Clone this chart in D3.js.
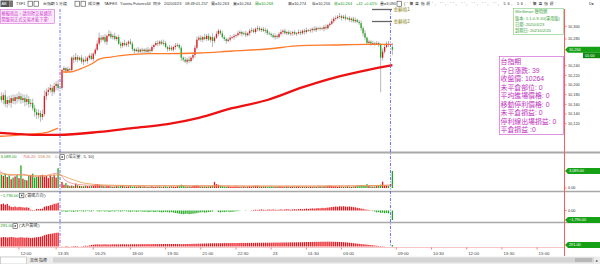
<!DOCTYPE html>
<html><head><meta charset="utf-8">
<script src="https://cdn.jsdelivr.net/npm/d3@7"></script>
<style>
html,body{margin:0;padding:0;background:#fff;overflow:hidden}
svg{display:block;font-family:"Liberation Sans","Noto Sans CJK TC",sans-serif}
</style></head><body>
<svg id="c" width="600" height="264"></svg>
<script>
// ---------- DATA ----------
const firstOpen = 10170;
const dayClose = [10177,10169,10179,10161,10169,10163,10173,10167,10175,10171,10177,10169,10173,10165,10171,10161,10163,10152,10144,10138,10142,10134,10140,10177,10186,10190,10194,10186,10198,10202,10194];
const dayHiExt = [6,8,5,10,7,9,6,8,5,7,9,6,8,7,10,6,8,9,7,6,8,5,9,12,7,6,8,5,7,6,9];
const dayLoExt = [7,5,9,6,8,5,10,6,7,9,5,8,6,9,7,8,6,5,9,8,7,10,6,5,8,7,6,9,5,8,6];
const nightClose = [
10231,10235,10229,10233,10231,10252,10249,10253,10249,10252,10246,10249,10247,10252,
10255,10250,10258,10264,10273,10282,10279,10283,10276,10285,10288,10283,10285,10280,
10283,10273,10270,10274,10271,10273,10276,10273,10265,10262,10264,10261,10264,10262,
10264,10261,10264,10262,10268,10271,10274,10273,10276,10273,10274,10268,10265,10267,
10264,10268,10270,10271,10267,10252,10249,10246,10249,10247,10252,10256,10267,10279,
10282,10279,10283,10280,10285,10279,10283,10277,10282,10288,10293,10289,10283,10280,
10277,10279,10282,10283,10285,10286,10289,10291,10288,10289,10286,10289,10293,10294,
10291,10296,10297,10294,10296,10293,10294,10289,10288,10286,10283,10285,10283,10288,
10291,10293,10289,10291,10288,10289,10291,10288,10289,10291,10289,10293,10291,10294,
10293,10294,10296,10294,10297,10296,10297,10296,10299,10297,10302,10304,10308,10312,
10313,10315,10316,10313,10315,10312,10313,10310,10312,10308,10310,10307,10305,10297,
10289,10282,10274,10276,10273,10274,10273,10274,10271,10252,10261,10268,10273,10271];
const nightHiExt = [
3,4,2,5,3,2,4,6,3,2,4,3,5,2, 3,4,2,3,5,8,4,3,5,2,6,4,3,5, 2,4,3,2,5,3,2,4,3,2,3,4,2,3,
2,3,4,2,3,2,3,4,2,3,5,3,2,4, 3,2,4,3,2,3,2,4,3,5,2,3,4,5, 3,4,2,5,3,4,2,6,3,4,3,2,4,3,
2,3,4,2,3,2,4,3,2,3,4,2,3,4, 3,2,4,3,2,3,4,2,3,2,3,4,2,3, 4,2,3,2,3,4,2,3,2,4,3,2,3,4,
2,3,2,4,3,2,3,2,3,4,2,3,4,3, 4,3,5,2,3,4,2,3,2,3,4,2,3,4, 3,5,2,3,2,3,2,3,2,3,5,4,3,4];
const nightLoExt = [
4,3,5,2,4,3,5,3,4,2,3,5,2,4, 3,2,4,3,2,3,4,2,3,5,2,3,4,2, 3,2,4,3,2,3,5,2,3,4,2,3,2,4,
3,2,3,4,2,3,2,4,3,2,3,2,4,3, 2,3,4,2,3,5,3,2,4,3,2,3,4,3, 2,3,4,2,3,2,4,9,3,2,4,3,2,3,
4,2,3,2,4,3,2,3,4,2,3,2,4,3, 2,3,4,2,3,2,4,3,2,3,2,4,3,2, 3,4,2,3,2,3,4,2,3,2,3,2,4,3,
2,3,4,2,3,2,3,2,4,3,2,3,2,3, 3,2,3,4,2,3,2,3,4,2,3,2,3,4, 5,4,3,2,3,2,3,2,3,67,4,3,2,3];
const lastBar = {open:10268, high:10274, low:10256, close:10264};

const dayVol = [3300,2400,2200,2600,2000,2300,1600,1900,2100,2400,1800,4100,1700,1500,1400,2300,2400,2600,1900,2000,2100,2300,2400,2100,2200,1800,2300,2000,2400,1900,3600];
const nightVol = [
1100,600,900,500,400,450,350,800,500,400,350,300,450,350,
300,400,450,650,700,600,500,350,300,400,350,300,250,300,
350,300,450,400,300,250,300,350,250,300,250,300,350,250,
300,250,200,250,300,200,250,300,250,200,250,300,200,250,
300,250,200,300,350,600,400,300,250,300,250,350,400,450,
350,300,250,300,250,300,350,400,1100,700,600,400,350,300,
250,300,250,200,250,300,250,200,250,300,200,250,300,250,
350,400,400,300,250,300,250,200,250,300,250,200,250,300,
250,200,250,300,250,200,250,200,250,300,200,250,200,250,
200,250,200,250,200,250,300,250,300,350,400,450,350,300,
300,250,300,250,200,250,300,250,200,250,300,350,400,500,
450,400,700,350,300,250,300,350,400,600,1150,500,400,350];
const lastVol = 3089;

const dayDir = [1350,1200,1300,1100,1250,900,700,650,750,600,700,650,600,550,600,500,150,100,80,300,250,300,350,700,800,850,1000,1100,1250,1300,1450];
const nightDir = [
-200,-150,-250,-200,-150,-200,-250,-150,-200,-100,-150,-200,-150,-100,
-150,-200,-100,0,-150,-200,-150,-100,-200,-150,-250,-200,-150,-200,
-100,-150,-200,-150,-100,-150,-200,-250,-200,-150,-250,-200,-150,-200,
-250,-200,-300,-250,-200,-300,-250,-200,-300,-350,-300,-250,-300,-350,
-300,-400,-450,-500,-600,-650,-700,-650,-600,-700,-650,-600,-550,-500,
-400,-350,-300,-400,-350,-300,-250,-200,0,0,-300,-350,-250,-300,
-250,-200,-300,-250,-200,-150,-100,-50,0,0,50,0,0,50,
100,150,100,150,200,150,100,150,200,150,200,150,100,150,
200,150,200,250,200,150,200,250,200,250,300,250,300,350,
300,350,400,350,400,450,400,500,450,500,550,600,650,700,
750,700,800,750,800,750,700,750,700,650,600,500,450,350,
300,200,150,100,50,-100,-200,-350,-300,-450,-400,-500,-450,-550];
const lastDir = -1790;

const dayBig = [1800,1750,1850,1800,1750,1800,1850,1800,1750,1700,1750,1800,1750,1700,1750,1700,1650,1700,1750,1800,1850,1900,2000,2200,2300,2400,2450,2500,2600,2650,2700];
const nightBig = [
50,0,100,80,0,60,100,120,80,0,50,100,150,120,
200,300,350,400,420,400,380,400,420,400,380,400,420,430,
420,400,420,440,430,420,400,420,440,450,430,440,450,460,
450,460,470,450,460,470,480,460,470,480,490,480,470,480,
490,500,480,470,460,450,470,480,500,490,500,510,520,530,
550,560,570,580,590,600,610,620,640,630,620,640,650,660,
650,660,670,680,670,660,680,690,700,690,680,700,710,700,
710,720,730,720,730,740,730,740,750,740,750,760,770,760,
770,780,790,780,790,800,810,800,810,820,830,840,850,860,
870,880,890,900,910,900,920,930,920,930,940,930,920,910,
900,890,880,870,850,820,780,740,700,650,600,560,520,480,
440,400,360,320,280,240,200,150,100,80,60,40,0,0];
const lastBig = 291;

// moving averages: [bar index, value]
const maOrangeDay = [[0,10094],[8,10096],[17,10099],[23,10101],[30,10111]];
const maOrangeNight = [[32,10227],[36,10227],[41,10233],[46,10241],[49,10246],[51,10250],[57,10253],[62,10255],[69,10257],[77,10258],[86,10258],[102,10259],[119,10262],[137,10265],[154,10270],[171,10271],[188,10272],[201,10272]];
const maRed = [[0,10101],[8,10099],[17,10097],[30,10097],[51,10103],[68,10111],[86,10119],[102,10132],[119,10152],[137,10169],[154,10194],[171,10215],[188,10231],[201,10241]];
const volMa5 = [[0,3000],[6,2300],[12,2500],[18,2100],[24,2300],[30,2700],[34,1300],[40,650],[50,450],[70,380],[100,420],[140,330],[180,380],[199,520],[201,706.2]];
const volMa10 = [[0,2600],[8,2400],[16,2250],[24,2200],[30,2400],[36,1700],[44,850],[56,520],[80,400],[120,360],[160,340],[190,430],[199,480],[201,558.2]];

const priceTicks = [10300,10280,10240,10220,10200,10180,10160,10140,10120];
const timeLabels = ["12:00","13:35","16:25","18:00","19:30","21:00","22:30","23","01:30","03:00","09:00","10:30","12:00","13:30","15:00"];
const timeIdx = [10,29,48,67,85,103,121,139,157,175,203,221,239,257,275];
const sessionBreaks = [31,200];

const infoLines = ["台指期","今日漲跌: 39","收盤價: 10264","未平倉部位: 0","平均進場價格: 0","移動停利價格: 0","未平倉損益: 0","停利線出場損益: 0","平倉損益 :0"];
const winLines = ["WinSmart 聰明網","版本: 1.1.0.9-10(專用版)","日期: 2020/4/23","到期日: 2021/02/20"];

// ---------- BUILD ----------
const bars = [];
dayClose.forEach((c,i)=>{const o=i?dayClose[i-1]:firstOpen;bars.push({gi:i,o,c,h:Math.max(o,c)+dayHiExt[i],l:Math.min(o,c)-dayLoExt[i],v:dayVol[i],d:dayDir[i],b:dayBig[i],last:false});});
nightClose.forEach((c,n)=>{const o=n?nightClose[n-1]:dayClose[dayClose.length-1];bars.push({gi:32+n,o,c,h:Math.max(o,c)+nightHiExt[n],l:Math.min(o,c)-nightLoExt[n],v:nightVol[n],d:nightDir[n],b:nightBig[n],last:false});});
bars.push({gi:201,o:lastBar.open,c:lastBar.close,h:lastBar.high,l:lastBar.low,v:lastVol,d:lastDir,b:lastBig,last:true});

const RED="#e8141c", GREEN="#1fa81f";
const svg=d3.select("#c");
const x=d3.scaleLinear().domain([0,280]).range([-0.56,-0.56+280*1.955]);
const yP=d3.scaleLinear().domain([10120,10240,10280,10300]).range([123.7,65.7,39,26.3]);
const yV=d3.scaleLinear().domain([0,3089]).range([188,171]);
const y3=d3.scaleLinear().domain([-1790,0]).range([220,210.5]);
const y4=d3.scaleLinear().domain([0,291]).range([246.5,245]);
const AX=564.5;

const defs=svg.append("defs");
defs.append("clipPath").attr("id","cm").append("rect").attr("x",0).attr("y",9).attr("width",AX).attr("height",143);
defs.append("clipPath").attr("id","cs").append("rect").attr("x",0).attr("y",153).attr("width",AX).attr("height",95);

const bw=1.3;
const up=d=>d.c>=d.o;
// main candles
const gm=svg.append("g").attr("clip-path","url(#cm)");
gm.selectAll(".wk").data(bars).join("line")
  .attr("x1",d=>x(d.gi)).attr("x2",d=>x(d.gi)).attr("y1",d=>yP(d.h)).attr("y2",d=>yP(d.l))
  .attr("stroke","#b0b0b0").attr("stroke-width",0.9);
gm.selectAll(".bd").data(bars).join("rect")
  .attr("x",d=>x(d.gi)-bw/2).attr("width",bw)
  .attr("y",d=>Math.min(yP(d.o),yP(d.c))).attr("height",d=>Math.max(0.8,Math.abs(yP(d.o)-yP(d.c))))
  .attr("fill",d=>up(d)?RED:GREEN);
const lineP=d3.line().x(d=>x(d[0])).y(d=>yP(d[1])).curve(d3.curveMonotoneX);
gm.append("path").attr("d",lineP(maOrangeDay)).attr("fill","none").attr("stroke","#ff7a2a").attr("stroke-width",1.3);
gm.append("path").attr("d",lineP(maOrangeNight)).attr("fill","none").attr("stroke","#ff7a2a").attr("stroke-width",1.3);
gm.append("path").attr("d",lineP(maRed)).attr("fill","none").attr("stroke","#ee1111").attr("stroke-width",2.3);

// sub panels
const gs=svg.append("g").attr("clip-path","url(#cs)");
gs.selectAll(".vb").data(bars).join("rect")
  .attr("x",d=>x(d.gi)-bw/2).attr("width",bw).attr("y",d=>yV(d.v)).attr("height",d=>yV(0)-yV(d.v))
  .attr("fill",d=>up(d)?RED:GREEN);
const lineV=d3.line().x(d=>x(d[0])).y(d=>yV(d[1])).curve(d3.curveMonotoneX);
gs.append("path").attr("d",lineV(volMa5)).attr("fill","none").attr("stroke","#f08a8a").attr("stroke-width",0.8);
gs.append("path").attr("d",lineV(volMa10)).attr("fill","none").attr("stroke","#e89a4a").attr("stroke-width",0.8);
gs.selectAll(".db").data(bars.filter(d=>d.d!==0)).join("rect")
  .attr("x",d=>x(d.gi)-bw/2).attr("width",bw).attr("y",d=>Math.min(y3(d.d),y3(0))).attr("height",d=>Math.abs(y3(d.d)-y3(0)))
  .attr("fill",d=>d.d>=0?RED:GREEN);
gs.selectAll(".bb").data(bars.filter(d=>d.b>0)).join("rect")
  .attr("x",d=>x(d.gi)-bw/2).attr("width",bw).attr("y",d=>y4(d.b)).attr("height",d=>y4(0)-y4(d.b))
  .attr("fill",d=>d.last?GREEN:RED);

// separators
[[152.5,2],[191.5,1.5],[222.5,1.5]].forEach(([yy,w])=>svg.append("line").attr("x1",0).attr("x2",600).attr("y1",yy).attr("y2",yy).attr("stroke","#a8a8a8").attr("stroke-width",w));
svg.append("line").attr("x1",0).attr("x2",AX).attr("y1",247.5).attr("y2",247.5).attr("stroke","#f3b8b8").attr("stroke-width",0.8);

// session break lines
sessionBreaks.forEach(g=>svg.append("line").attr("x1",x(g)).attr("x2",x(g)).attr("y1",9).attr("y2",247)
  .attr("stroke","#5a5aff").attr("stroke-width",0.9).attr("stroke-dasharray","3,1.5,1,1.5"));

// right axis
svg.append("line").attr("x1",AX).attr("x2",AX).attr("y1",9).attr("y2",256).attr("stroke","#ff5a5a").attr("stroke-width",1);
const fmt=d3.format(",");
priceTicks.forEach(p=>{
  svg.append("line").attr("x1",AX).attr("x2",AX+2).attr("y1",yP(p)).attr("y2",yP(p)).attr("stroke","#ff5a5a").attr("stroke-width",0.8);
  svg.append("text").attr("x",AX+3.5).attr("y",yP(p)).attr("dy","0.35em").attr("font-size",3.8).attr("fill","#333").text(fmt(p));
});
function tag(yy,txt){
  const x0=AX+0.5;
  svg.append("path").attr("d",`M${x0},${yy} L${x0+3},${yy-3} L600,${yy-3} L600,${yy+3} L${x0+3},${yy+3} Z`).attr("fill","#16a016");
  svg.append("text").attr("x",x0+4).attr("y",yy).attr("dy","0.36em").attr("font-size",3.8).attr("fill","#fff").text(txt);
}
tag(yP(lastBar.close),fmt(lastBar.close));
svg.append("rect").attr("x",583).attr("y",yP(lastBar.close)+3).attr("width",17).attr("height",5.5).attr("fill","#0e8a0e");
svg.append("text").attr("x",585).attr("y",yP(lastBar.close)+5.8).attr("dy","0.35em").attr("font-size",3.8).attr("fill","#fff").text("01:00");
const f2=d3.format(",.2f");
tag(yV(lastVol),f2(lastVol));
svg.append("text").attr("x",AX+3.5).attr("y",yV(0)).attr("dy","0.35em").attr("font-size",3.8).attr("fill","#333").text(f2(0));
svg.append("line").attr("x1",AX).attr("x2",AX+2).attr("y1",yV(0)).attr("y2",yV(0)).attr("stroke","#ff5a5a").attr("stroke-width",0.8);
svg.append("text").attr("x",AX+3.5).attr("y",y3(0)).attr("dy","0.35em").attr("font-size",3.8).attr("fill","#333").text(f2(0));
svg.append("line").attr("x1",AX).attr("x2",AX+2).attr("y1",y3(0)).attr("y2",y3(0)).attr("stroke","#ff5a5a").attr("stroke-width",0.8);
tag(y3(lastDir),f2(lastDir));
tag(y4(lastBig),f2(lastBig));

// time axis
timeIdx.forEach((g,i)=>{
  svg.append("line").attr("x1",x(g)).attr("x2",x(g)).attr("y1",247.5).attr("y2",249.5).attr("stroke","#ff5a5a").attr("stroke-width",0.8);
  svg.append("text").attr("x",x(g)+1.5).attr("y",253).attr("dy","0.35em").attr("font-size",4.4).attr("fill","#444").text(timeLabels[i]);
});

// bottom bar
svg.append("rect").attr("x",0).attr("y",256.5).attr("width",600).attr("height",7.5).attr("fill","#ececec");
svg.append("rect").attr("x",0.5).attr("y",257).attr("width",26).attr("height",7).attr("fill","#fff").attr("stroke","#aaa").attr("stroke-width",0.5);
svg.append("text").attr("x",30).attr("y",261).attr("dy","0.35em").attr("font-size",4).attr("fill","#333").text("其他 指標");
svg.append("rect").attr("x",53).attr("y",257.5).attr("width",541).attr("height",5).attr("fill","#d4d4d4");
svg.append("rect").attr("x",575).attr("y",258).attr("width",17).attr("height",4).attr("fill","#b8b8b8");
svg.append("text").attr("x",596).attr("y",260.5).attr("dy","0.35em").attr("font-size",4).attr("fill","#333").text("▸");

// header row
const hdr=svg.append("g").attr("font-size",3.9).attr("fill","#333");
hdr.append("rect").attr("x",0.5).attr("y",0.5).attr("width",9).attr("height",6.5).attr("fill","#555");
hdr.append("text").attr("x",1.5).attr("y",4).attr("dy","0.35em").attr("fill","#fff").text("AB");
hdr.append("rect").attr("x",9.5).attr("y",0.5).attr("width",3.5).attr("height",6.5).attr("fill","#777");
const boxes=[28,34,75,81,397];
boxes.forEach(bx=>hdr.append("rect").attr("x",bx).attr("y",1.2).attr("width",4.5).attr("height",5).attr("fill","#fff").attr("stroke","#444").attr("stroke-width",0.6));
const hItems=[[16,"TXF1","#333"],[43,"台指期 5 分鐘","#333"],[88,"成交價","#333"],[104,"TAIFEX","#333"],[120,"Yuanta Futures64","#333"],[153,"同步","#333"],[164,"2020/4/23","#333"],[185,"08:49:01.257","#333"],[211,"買=10,263","#333"],[233,"賣=10,264","#333"],[255,"開=10,268","#1a9a1a"],[288,"高=10,274","#333"],[312,"低=10,256","#333"],[334,"收=10,264","#1a9a1a"],[356,"+42","#1a9a1a"],[364,"+0.41%","#1a9a1a"],[380,"量=3,090","#333"]];
hItems.forEach(([hx,t,c])=>hdr.append("text").attr("x",hx).attr("y",4).attr("dy","0.35em").attr("fill",c).text(t));
hdr.append("text").attr("x",404).attr("y",4).attr("dy","0.35em").attr("textLength",152).attr("lengthAdjust","spacing").text("('驚喜指標', '', '', '', '', '', '', 56, 56, '驚喜指標'");
hdr.append("text").attr("x",589).attr("y",4).attr("dy","0.35em").text("D▸");

// top-left notice
svg.append("rect").attr("x",0.5).attr("y",9.5).attr("width",54).attr("height",14).attr("fill","#fbeafb").attr("stroke","#d46ad4").attr("stroke-width",0.6);
svg.append("text").attr("x",1.5).attr("y",13.3).attr("dy","0.35em").attr("font-size",4.2).attr("fill","#cc33cc").text("模擬商品，請勿對交易通訊");
svg.append("text").attr("x",1.5).attr("y",19.5).attr("dy","0.35em").attr("font-size",4.2).attr("fill","#cc33cc").text("開盤前正式交易才能下單!");

// level markers
[[9.5,"金額格1"],[21.5,"金額格2"]].forEach(([yy,t])=>{
  svg.append("line").attr("x1",372).attr("x2",392).attr("y1",yy).attr("y2",yy).attr("stroke","#666").attr("stroke-width",1.3);
  svg.append("text").attr("x",393.5).attr("y",yy).attr("dy","0.35em").attr("font-size",4.6).attr("fill","#8a8420").text(t);
});

// WinSmart box
svg.append("rect").attr("x",513.5).attr("y",8.5).attr("width",50).attr("height",26).attr("fill","#fff").attr("stroke","#8fd08f").attr("stroke-width",0.7);
winLines.forEach((t,i)=>svg.append("text").attr("x",515).attr("y",12+i*6.2).attr("dy","0.35em").attr("font-size",4.2).attr("fill","#3aa03a").text(t));

// info box
svg.append("rect").attr("x",499.5).attr("y",56.5).attr("width",64).attr("height",78).attr("fill","#fff").attr("stroke","#d77bd7").attr("stroke-width",0.8);
infoLines.forEach((t,i)=>svg.append("text").attr("x",500.5).attr("y",62+i*8.45).attr("dy","0.36em").attr("font-size",6.9).attr("fill","#c033c0").text(t));

// subpanel headers
function hdrRow(yy,items){items.forEach(([hx,t,c])=>svg.append("text").attr("x",hx).attr("y",yy).attr("dy","0.35em").attr("font-size",4.1).attr("fill",c).text(t));}
function icon(bx,yy){svg.append("rect").attr("x",bx).attr("y",yy-2.3).attr("width",4.4).attr("height",4.6).attr("fill","#fff").attr("stroke","#444").attr("stroke-width",0.6);
  svg.append("rect").attr("x",bx+1.5).attr("y",yy-0.8).attr("width",1.4).attr("height",1.6).attr("fill","#444");}
hdrRow(157,[[0.5,f2(lastVol),"#1a9a1a"],[23,"706.20","#e06a6a"],[38,"558.20","#c8874a"],[55,"0.00","#999"],[66,"('成交量', 5, 10)","#333"]]);
icon(60,157);
hdrRow(195.5,[[0.3,f2(lastDir),"#1a9a1a"],[25,"('籌碼方向')","#333"]]);
icon(19.5,195.5);
hdrRow(226,[[0.5,f2(lastBig),"#1a9a1a"],[19,"('大戶籌碼')","#333"]]);
icon(13,226);
</script>
</body></html>
